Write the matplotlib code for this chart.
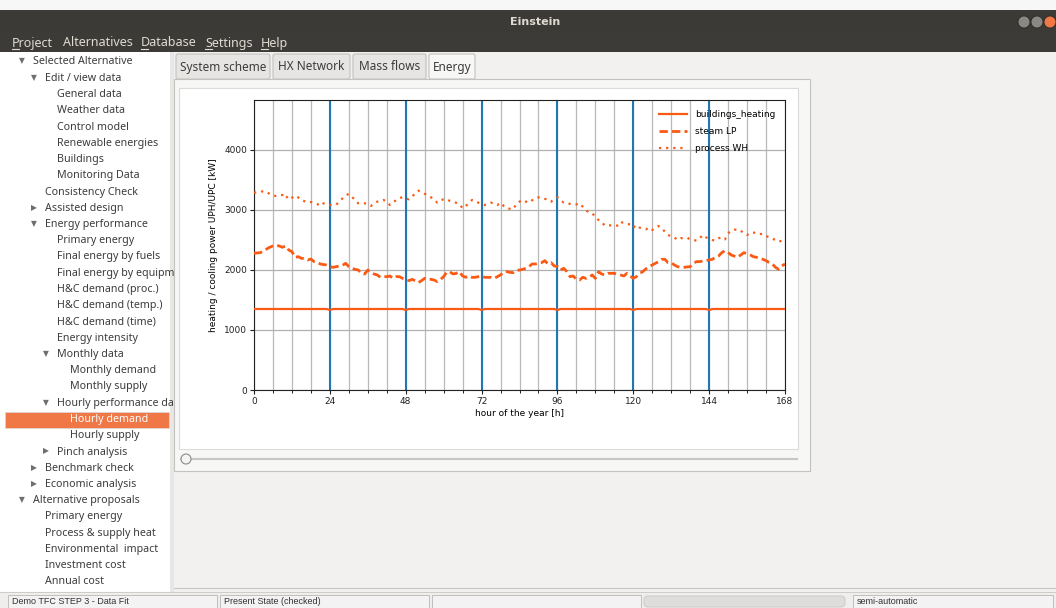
import matplotlib
matplotlib.use("Agg")
import matplotlib.pyplot as plt
from matplotlib.patches import Rectangle, Circle, FancyBboxPatch

# ---- chart data ----
hours = list(range(0, 169))

buildings_heating = [
    1350, 1350, 1350, 1350, 1350, 1350, 1350, 1350, 1350, 1350, 1350, 1350,
    1350, 1350, 1350, 1350, 1350, 1350, 1350, 1350, 1350, 1350, 1350, 1350,
    1333, 1350, 1350, 1350, 1350, 1350, 1350, 1350, 1350, 1350, 1350, 1350,
    1350, 1350, 1350, 1350, 1350, 1350, 1350, 1350, 1350, 1350, 1350, 1350,
    1333, 1350, 1350, 1350, 1350, 1350, 1350, 1350, 1350, 1350, 1350, 1350,
    1350, 1350, 1350, 1350, 1350, 1350, 1350, 1350, 1350, 1350, 1350, 1350,
    1333, 1350, 1350, 1350, 1350, 1350, 1350, 1350, 1350, 1350, 1350, 1350,
    1350, 1350, 1350, 1350, 1350, 1350, 1350, 1350, 1350, 1350, 1350, 1350,
    1333, 1350, 1350, 1350, 1350, 1350, 1350, 1350, 1350, 1350, 1350, 1350,
    1350, 1350, 1350, 1350, 1350, 1350, 1350, 1350, 1350, 1350, 1350, 1350,
    1333, 1350, 1350, 1350, 1350, 1350, 1350, 1350, 1350, 1350, 1350, 1350,
    1350, 1350, 1350, 1350, 1350, 1350, 1350, 1350, 1350, 1350, 1350, 1350,
    1333, 1350, 1350, 1350, 1350, 1350, 1350, 1350, 1350, 1350, 1350, 1350,
    1350, 1350, 1350, 1350, 1350, 1350, 1350, 1350, 1350, 1350, 1350, 1350,
    1350,
]

steam_lp = [
    2278, 2285, 2289, 2320, 2350, 2380, 2400, 2411, 2400, 2378, 2400, 2333,
    2306, 2211, 2222, 2194, 2194, 2167, 2183, 2139, 2125, 2100, 2090, 2083,
    2056, 2044, 2055, 2067, 2078, 2111, 2056, 2028, 2010, 2000, 1944, 1933,
    2000, 1956, 1933, 1917, 1878, 1889, 1889, 1900, 1861, 1889, 1889, 1861,
    1840, 1822, 1844, 1822, 1789, 1822, 1861, 1844, 1844, 1833, 1806, 1844,
    1889, 1967, 1967, 1933, 1944, 1972, 1900, 1878, 1900, 1878, 1878, 1889,
    1900, 1878, 1878, 1878, 1861, 1889, 1917, 1967, 1972, 1960, 1956, 1989,
    2000, 2011, 2028, 2056, 2100, 2100, 2110, 2122, 2156, 2100, 2122, 2067,
    2056, 2000, 2028, 1972, 1889, 1900, 1844, 1833, 1878, 1861, 1878, 1917,
    1861, 1972, 1933, 1917, 1944, 1944, 1944, 1930, 1917, 1900, 1944, 1900,
    1861, 1889, 1944, 1972, 2020, 2056, 2083, 2111, 2139, 2178, 2178, 2122,
    2122, 2083, 2056, 2044, 2044, 2050, 2056, 2111, 2139, 2139, 2150, 2156,
    2167, 2178, 2211, 2233, 2289, 2322, 2289, 2250, 2230, 2211, 2250, 2289,
    2267, 2250, 2222, 2211, 2190, 2178, 2156, 2122, 2100, 2044, 2011, 2067,
    2100,
]

process_wh = [
    3289, 3295, 3300, 3315, 3300, 3265, 3244, 3233, 3245, 3250, 3189, 3250,
    3211, 3178, 3211, 3167, 3145, 3128, 3133, 3115, 3100, 3067, 3111, 3100,
    3085, 3078, 3089, 3139, 3194, 3244, 3267, 3222, 3156, 3111, 3111, 3111,
    3100, 3067, 3111, 3139, 3150, 3167, 3139, 3083, 3122, 3167, 3200, 3211,
    3194, 3178, 3222, 3278, 3322, 3289, 3270, 3250, 3211, 3178, 3122, 3160,
    3178, 3183, 3150, 3139, 3120, 3100, 3028, 3067, 3111, 3167, 3139, 3122,
    3100, 3083, 3100, 3122, 3111, 3083, 3122, 3067, 3028, 3020, 3011, 3100,
    3139, 3167, 3140, 3122, 3160, 3200, 3211, 3194, 3185, 3178, 3139, 3178,
    3211, 3167, 3122, 3122, 3100, 3097, 3094, 3111, 3056, 3000, 2956, 2944,
    2889, 2833, 2800, 2739, 2744, 2744, 2744, 2739, 2806, 2778, 2765, 2761,
    2706, 2750, 2706, 2690, 2678, 2706, 2667, 2706, 2733, 2694, 2639, 2583,
    2560, 2544, 2500, 2528, 2535, 2539, 2511, 2500, 2489, 2528, 2583, 2544,
    2522, 2500, 2489, 2528, 2544, 2511, 2611, 2656, 2670, 2678, 2656, 2611,
    2583, 2622, 2622, 2622, 2600, 2600, 2567, 2544, 2520, 2500, 2472, 2489,
    2511,
]

x_ticks = [0, 24, 48, 72, 96, 120, 144, 168]
day_marks = [24, 48, 72, 96, 120, 144]
y_ticks = [0, 1000, 2000, 3000, 4000]

tree_items = [
    ("Selected Alternative", 0, "down"),
    ("Edit / view data", 1, "down"),
    ("General data", 2, None),
    ("Weather data", 2, None),
    ("Control model", 2, None),
    ("Renewable energies", 2, None),
    ("Buildings", 2, None),
    ("Monitoring Data", 2, None),
    ("Consistency Check", 1, None),
    ("Assisted design", 1, "right"),
    ("Energy performance", 1, "down"),
    ("Primary energy", 2, None),
    ("Final energy by fuels", 2, None),
    ("Final energy by equipm", 2, None),
    ("H&C demand (proc.)", 2, None),
    ("H&C demand (temp.)", 2, None),
    ("H&C demand (time)", 2, None),
    ("Energy intensity", 2, None),
    ("Monthly data", 2, "down"),
    ("Monthly demand", 3, None),
    ("Monthly supply", 3, None),
    ("Hourly performance da", 2, "down"),
    ("Hourly demand", 3, None),
    ("Hourly supply", 3, None),
    ("Pinch analysis", 2, "right"),
    ("Benchmark check", 1, "right"),
    ("Economic analysis", 1, "right"),
    ("Alternative proposals", 0, "down"),
    ("Primary energy", 1, None),
    ("Process & supply heat", 1, None),
    ("Environmental  impact", 1, None),
    ("Investment cost", 1, None),
    ("Annual cost", 1, None),
]
selected_item = 22

tabs = ["System scheme", "HX Network", "Mass flows", "Energy"]
tab_edges = [175, 272, 352, 428, 477]
menu_items = ["Project", "Alternatives", "Database", "Settings", "Help"]
menu_x = [12, 63, 141, 205, 261]
menu_underlined = [True, False, True, True, True]
status_fields = ["Demo TFC STEP 3 - Data Fit", "Present State (checked)", "", "", "semi-automatic"]
status_x = [8, 220, 432, 644, 853, 1056]

W, H = 1056, 608
ui_font = ["Noto Sans", "DejaVu Sans"]
orange = "#fa5a14"

fig = plt.figure(figsize=(W / 100, H / 100), dpi=100)
bg = fig.add_axes([0, 0, 1, 1])
bg.set_xlim(0, W)
bg.set_ylim(H, 0)
bg.axis("off")


def box(x0, y0, x1, y1, fc, ec="none", lw=0.8, z=1):
    bg.add_patch(Rectangle((x0, y0), x1 - x0, y1 - y0, facecolor=fc,
                           edgecolor=ec, linewidth=lw, zorder=z))


# window background and chrome
box(0, 0, W, H, "#f2f1f0", z=0)
box(0, 0, W, 10, "#f7f7f7")
box(0, 10, W, 33, "#3b3a36")
box(0, 33, W, 52, "#3c3b37")
bg.text(535, 22, "Einstein", color="#dfdbd2", fontsize=8, fontweight="bold",
        ha="center", va="center", family="DejaVu Sans")
for cx, c in [(1024, "#8a8882"), (1037, "#8a8882"), (1050, "#f07746")]:
    bg.add_patch(Circle((cx, 22), 6, facecolor=c, edgecolor="#2b2a27", lw=0.6, zorder=3))

for lab, mx, ul in zip(menu_items, menu_x, menu_underlined):
    bg.text(mx, 43, lab, color="#dfdbd2", fontsize=9, ha="left", va="center",
            family=ui_font)
    if ul:
        bg.plot([mx, mx + 6.5], [49, 49], color="#dfdbd2", lw=0.8)

# left tree panel
box(0, 52, 170, 592, "white")
box(170, 52, 174, 592, "#e8e7e5")
indent_text = [33, 45, 57, 70]
for i, (lab, lev, arrow) in enumerate(tree_items):
    y = 62 + i * 16.25
    col = "#3c3c3c"
    if i == selected_item:
        box(5, y - 8, 169, y + 8.5, "#f07746", ec="#d9d9d9", lw=0.5, z=2)
        col = "white"
    bg.text(indent_text[lev], y, lab, color=col, fontsize=7.7, ha="left",
            va="center", family=ui_font, zorder=3, clip_on=True)
    if arrow:
        sym = "\u25bc" if arrow == "down" else "\u25b6"
        bg.text(indent_text[lev] - 14, y - 1, sym, color="#6e6e6e", fontsize=5.5,
                ha="left", va="center", family="DejaVu Sans", zorder=3)
bg.plot([0, W], [592, 592], color="#cfcdca", lw=0.8)

# tabs
for k, lab in enumerate(tabs):
    x0, x1 = tab_edges[k] + 1, tab_edges[k + 1] - 2
    active = (k == len(tabs) - 1)
    bg.add_patch(FancyBboxPatch((x0, 54), x1 - x0, 25, boxstyle="round,pad=0,rounding_size=2",
                                facecolor="#f7f7f6" if active else "#e6e5e3",
                                edgecolor="#c4c2bf", lw=0.8, zorder=2))
    bg.text((x0 + x1) / 2, 67, lab, color="#3c3c3c", fontsize=8.5, ha="center",
            va="center", family=ui_font, zorder=3)

# notebook page and figure canvas
box(174, 79, 810, 471, "#f7f7f6", ec="#c4c2bf", z=1)
box(179, 88, 798, 449, "white", ec="#dcdbd9", z=1)
bg.plot([181, 797], [459, 459], color="#c8c6c3", lw=1.5, zorder=2)
bg.add_patch(Circle((186, 459), 5, facecolor="#f4f4f4", edgecolor="#8d8b88", lw=0.8, zorder=3))
bg.plot([174, 1056], [588, 588], color="#c8c6c3", lw=0.8)

# status bar
box(0, 594, W, H, "#efeeed")
for k, lab in enumerate(status_fields):
    x0, x1 = status_x[k], status_x[k + 1] - 3
    if k == 3:
        bg.add_patch(FancyBboxPatch((x0, 596), x1 - x0 - 5, 11, boxstyle="round,pad=0,rounding_size=4",
                                    facecolor="#dedddb", edgecolor="#c8c6c3", lw=0.6, zorder=2))
    else:
        box(x0, 595, x1, 608, "#f3f3f3", ec="#b9b7b4", lw=0.6, z=2)
    bg.text(x0 + 4, 602, lab, color="#333333", fontsize=6.5, ha="left", va="center",
            family="Liberation Sans", zorder=3)

# ---- the chart ----
ax = fig.add_axes([254 / W, (H - 390) / H, 531 / W, 290 / H])
ax.set_facecolor("white")
ax.plot(hours, buildings_heating, color=orange, lw=1.6, label="buildings_heating", zorder=3)
ax.plot(hours, steam_lp, color=orange, lw=2.0, ls=(0, (3, 1.5)), label="steam LP", zorder=3)
ax.plot(hours, process_wh, color=orange, lw=1.6, ls=(0, (1, 2.2)), label="process WH", zorder=3)
for d in day_marks:
    ax.axvline(d, color="#1f77b4", lw=1.5, zorder=2)

ax.set_xlim(0, 168)
ax.set_ylim(0, 4833)
ax.set_xticks(x_ticks)
ax.set_xticks(range(0, 169, 6), minor=True)
ax.set_yticks(y_ticks)
ax.grid(True, which="both", axis="x", color="#b8b8b8", lw=0.9, zorder=1)
ax.grid(True, which="major", axis="y", color="#b0b0b0", lw=0.9, zorder=1)
ax.tick_params(labelsize=6.5, length=3, width=0.8, colors="#222222", pad=2)
ax.tick_params(which="minor", length=2, width=0.6)
for s in ax.spines.values():
    s.set_linewidth(0.8)
    s.set_color("#222222")
ax.set_xlabel("hour of the year [h]", fontsize=6.5, labelpad=2)
ax.set_ylabel("heating / cooling power UPH/UPC [kW]", fontsize=6.5, labelpad=4)
ax.legend(loc="upper right", fontsize=6.5, frameon=False, handlelength=3.2,
          borderaxespad=0.7, labelspacing=0.9)

fig.savefig("out.png", dpi=100)
